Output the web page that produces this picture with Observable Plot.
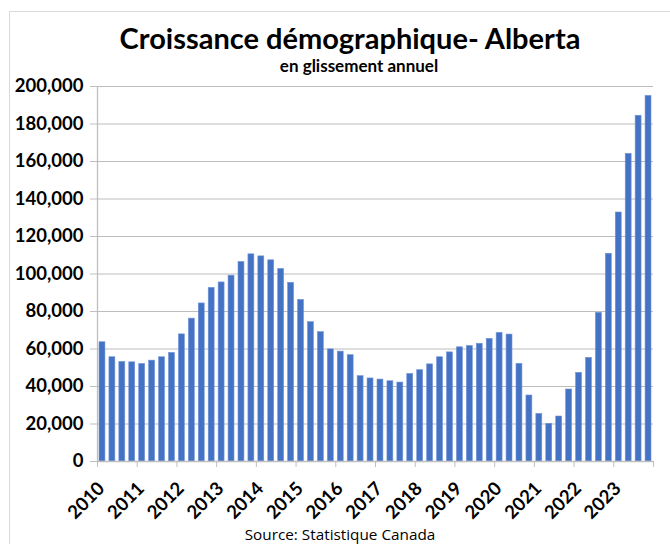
<!DOCTYPE html>
<html>
<head>
<meta charset="utf-8">
<script src="https://cdn.jsdelivr.net/npm/d3@7"></script>
<script src="https://cdn.jsdelivr.net/npm/@observablehq/plot@0.6"></script>
<style>
  html, body { margin: 0; padding: 0; background: #fff; }
  #wrap { position: relative; width: 670px; height: 544px; overflow: hidden; background: #fff; }
  #frame { position: absolute; left: 9px; top: 11px; width: 720px; height: 600px; border: 1px solid #d9d9d9; box-sizing: border-box; }
  .t { position: absolute; text-align: center; font-family: Lato, sans-serif; color: #000; white-space: nowrap; line-height: 1; }
  #title { top: 23px; left: 0; width: 700px; font-size: 29px; font-weight: bold; }
  #subtitle { top: 57px; left: 18px; width: 682px; font-size: 17px; font-weight: bold; }
  #caption { top: 527px; left: 0; width: 680px; font-size: 15.3px; font-family: "Open Sans", Lato, sans-serif; }
  #chart { position: absolute; left: 0; top: 0; }
</style>
</head>
<body>
<div id="wrap">
  <div id="frame"></div>
  <div id="chart"></div>
  <div class="t" id="title">Croissance démographique- Alberta</div>
  <div class="t" id="subtitle">en glissement annuel</div>
  <div class="t" id="caption">Source: Statistique Canada</div>
</div>
<script>
// Years shown on the x axis (4 quarters per year)
const years = [2010, 2011, 2012, 2013, 2014, 2015, 2016, 2017, 2018, 2019, 2020, 2021, 2022, 2023];
// Year-over-year population growth, quarterly (Q1..Q4 for each year)
const growth2010 = [63600, 55600, 53100, 52900];
const growth2011 = [52000, 53800, 55600, 57900];
const growth2012 = [67800, 76200, 84300, 92600];
const growth2013 = [95500, 99100, 106400, 110500];
const growth2014 = [109400, 107300, 102700, 95300];
const growth2015 = [86200, 74300, 69000, 59800];
const growth2016 = [58600, 56700, 45500, 44300];
const growth2017 = [43700, 42800, 42100, 46700];
const growth2018 = [48700, 51800, 55600, 58200];
const growth2019 = [60900, 61600, 62800, 65400];
const growth2020 = [68600, 67700, 52100, 35200];
const growth2021 = [25400, 20100, 24000, 38400];
const growth2022 = [47300, 55300, 79300, 110800];
const growth2023 = [132800, 164100, 184400, 195000];
const yTicks = [0, 20000, 40000, 60000, 80000, 100000, 120000, 140000, 160000, 180000, 200000];

const series = [growth2010, growth2011, growth2012, growth2013, growth2014, growth2015, growth2016,
  growth2017, growth2018, growth2019, growth2020, growth2021, growth2022, growth2023];
const data = [];
series.forEach((vals, yi) => vals.forEach((v, q) => data.push({ t: years[yi] + q / 4, v })));
const xTicks = [...years, years[years.length - 1] + 1];

const chart = Plot.plot({
  width: 670,
  height: 544,
  marginLeft: 97,
  marginRight: 17,
  marginTop: 86,
  marginBottom: 83,
  style: { fontFamily: "Lato, sans-serif", fontSize: "18.5px", fontWeight: "bold", color: "#000", background: "transparent", overflow: "visible" },
  x: { type: "linear", domain: [xTicks[0], xTicks[xTicks.length - 1]] },
  y: { domain: [0, 200000] },
  marks: [
    Plot.gridY(yTicks, { stroke: "#bcbcbc", strokeOpacity: 1, strokeWidth: 1 }),
    Plot.rectY(data, { x1: "t", x2: d => d.t + 0.25, y: "v", insetLeft: 2, insetRight: 2, fill: "#4472c4", stroke: "#7194d8", strokeWidth: 0.6 }),
    Plot.ruleY([0], { stroke: "#bfbfbf", strokeWidth: 1.3 }),
    Plot.ruleX([xTicks[0]], { stroke: "#bfbfbf", strokeWidth: 1.3 }),
    Plot.axisY({ ticks: yTicks, tickFormat: d3.format(","), tickSize: 7, tickPadding: 7, stroke: "#bfbfbf", label: null }),
    Plot.axisX({ ticks: xTicks, tickFormat: () => "", tickSize: 6, stroke: "#bfbfbf", label: null }),
    Plot.text(years, { x: d => d, text: d => String(d), frameAnchor: "bottom", rotate: -45, textAnchor: "end", lineAnchor: "middle", dx: 4, dy: 24, fill: "#000" })
  ]
});
document.getElementById("chart").appendChild(chart);
</script>
</body>
</html>
